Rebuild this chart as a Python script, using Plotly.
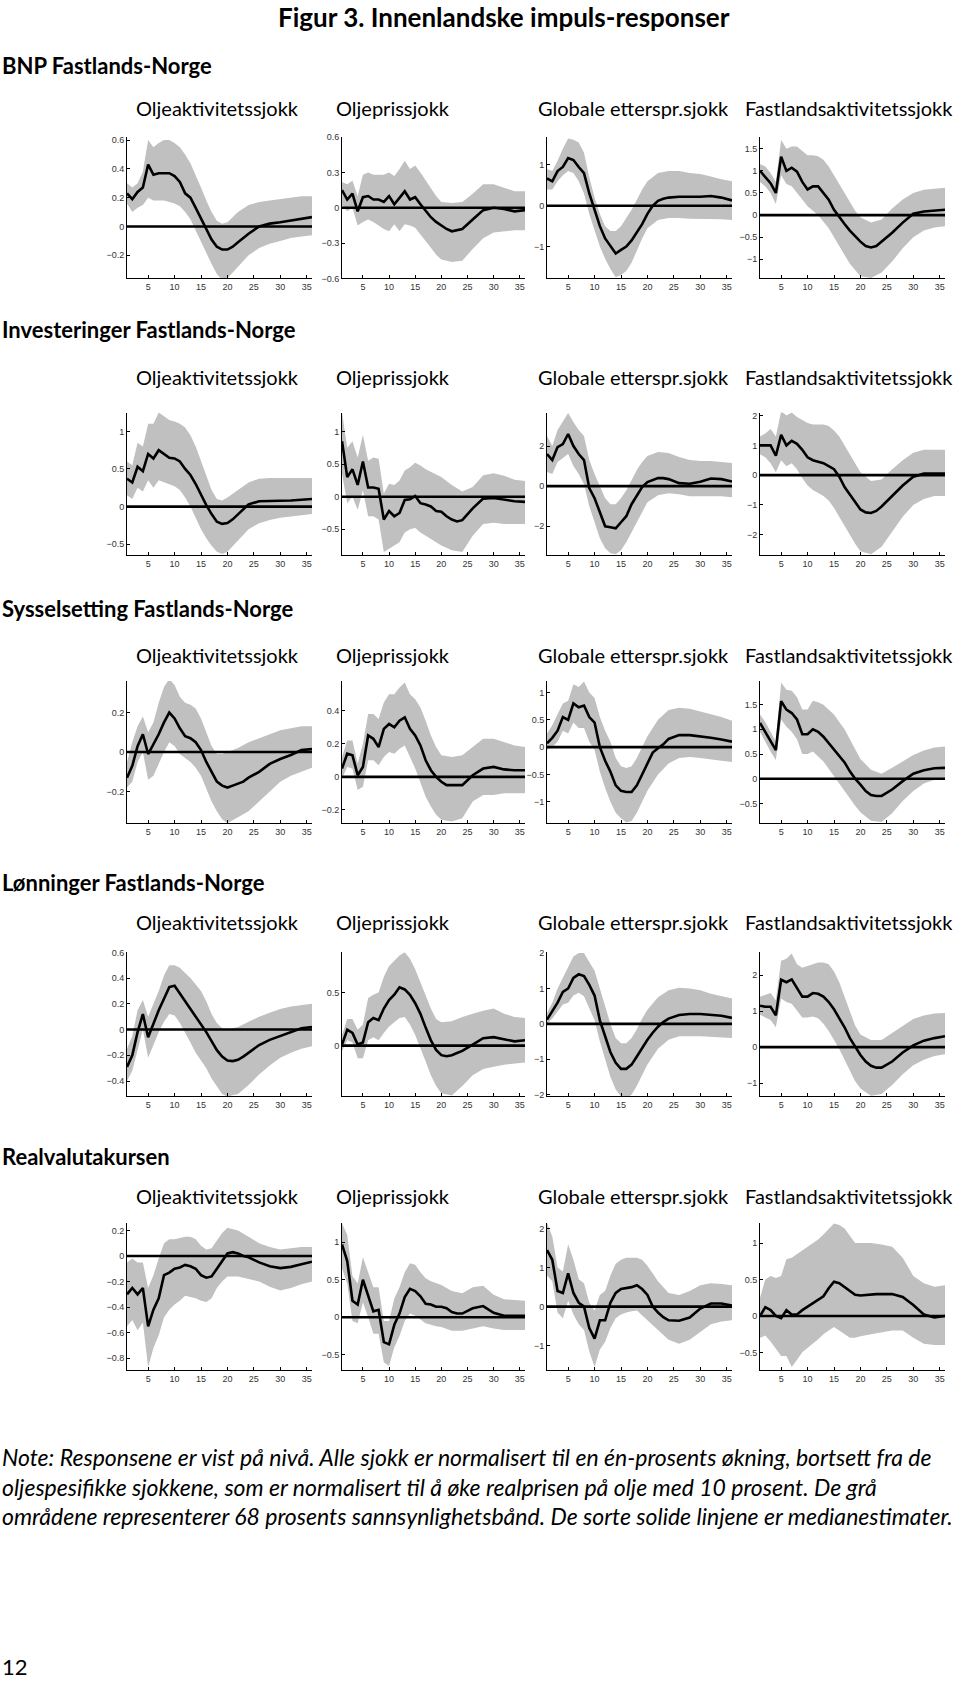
import plotly.graph_objects as go

# ---------------- data ----------------
TITLE = "Figur 3. Innenlandske impuls-responser"
VARIABLES = ["BNP Fastlands-Norge", "Investeringer Fastlands-Norge",
             "Sysselsetting Fastlands-Norge", "Lønninger Fastlands-Norge",
             "Realvalutakursen"]
SHOCKS = ["Oljeaktivitetssjokk", "Oljeprissjokk", "Globale etterspr.sjokk",
          "Fastlandsaktivitetssjokk"]
NOTE_LINES = [
    "Note: Responsene er vist på nivå. Alle sjokk er normalisert til en én-prosents økning, bortsett fra de",
    "oljespesifikke sjokkene, som er normalisert til å øke realprisen på olje med 10 prosent. De grå",
    "områdene representerer 68 prosents sannsynlighetsbånd. De sorte solide linjene er medianestimater.",
]
PAGE_NO = "12"

MED_H = list(range(1, 25)) + [26, 28, 30, 32, 34, 36]
BAND_H = list(range(1, 21)) + [22, 24, 26, 28, 30, 32, 34, 36]
X_TICKS = [5, 10, 15, 20, 25, 30, 35]

# BNP Fastlands-Norge
BNP_OLJEAKT_MED = [0.23,0.19,0.24,0.27,0.43,0.36,0.37,0.37,0.37,0.35,0.31,0.23,0.2,0.13,0.06,-0.01,-0.09,-0.14,-0.16,-0.16,-0.14,-0.11,-0.08,-0.05,0.0,0.02,0.03,0.04,0.055,0.065]
BNP_OLJEAKT_HI = [0.3,0.27,0.3,0.38,0.6,0.55,0.58,0.6,0.6,0.58,0.55,0.5,0.44,0.36,0.27,0.18,0.1,0.04,0.02,0.03,0.1,0.15,0.17,0.18,0.19,0.2,0.21,0.21]
BNP_OLJEAKT_LO = [0.16,0.1,0.13,0.15,0.2,0.18,0.18,0.18,0.17,0.16,0.14,0.1,0.05,-0.02,-0.1,-0.18,-0.26,-0.33,-0.37,-0.36,-0.28,-0.2,-0.15,-0.12,-0.1,-0.08,-0.07,-0.06]

BNP_OLJEPRIS_MED = [0.15,0.07,0.12,-0.03,0.09,0.1,0.07,0.07,0.05,0.1,0.03,0.09,0.14,0.07,0.09,0.03,-0.03,-0.08,-0.12,-0.15,-0.18,-0.2,-0.19,-0.18,-0.1,-0.02,0.0,-0.01,-0.03,-0.02]
BNP_OLJEPRIS_HI = [0.22,0.2,0.23,0.1,0.28,0.3,0.28,0.28,0.28,0.3,0.27,0.33,0.4,0.33,0.36,0.3,0.23,0.16,0.1,0.05,0.04,0.05,0.12,0.2,0.2,0.17,0.14,0.14]
BNP_OLJEPRIS_LO = [0.02,-0.03,0.0,-0.15,-0.12,-0.1,-0.12,-0.15,-0.18,-0.2,-0.14,-0.2,-0.14,-0.15,-0.17,-0.22,-0.28,-0.34,-0.4,-0.44,-0.46,-0.45,-0.35,-0.26,-0.21,-0.2,-0.19,-0.19]

BNP_GLOBAL_MED = [0.67,0.6,0.85,0.95,1.17,1.12,0.95,0.8,0.3,-0.1,-0.5,-0.8,-1.0,-1.17,-1.08,-1.0,-0.85,-0.65,-0.45,-0.2,0.0,0.12,0.17,0.2,0.22,0.22,0.22,0.24,0.2,0.13]
BNP_GLOBAL_HI = [0.9,0.85,1.1,1.4,1.65,1.62,1.55,1.3,0.7,0.2,-0.2,-0.5,-0.62,-0.62,-0.5,-0.3,-0.1,0.15,0.4,0.6,0.8,0.85,0.85,0.8,0.78,0.72,0.65,0.6]
BNP_GLOBAL_LO = [0.4,0.4,0.6,0.75,0.85,0.8,0.6,0.3,-0.2,-0.6,-1.0,-1.3,-1.55,-1.75,-1.7,-1.6,-1.4,-1.1,-0.8,-0.55,-0.35,-0.3,-0.3,-0.32,-0.33,-0.33,-0.33,-0.35]

BNP_FASTLAND_MED = [1.0,0.85,0.72,0.5,1.32,1.0,1.07,0.98,0.75,0.58,0.65,0.65,0.5,0.35,0.12,-0.05,-0.2,-0.35,-0.48,-0.6,-0.7,-0.73,-0.7,-0.6,-0.4,-0.17,0.03,0.08,0.1,0.12]
BNP_FASTLAND_HI = [1.15,1.1,0.95,0.75,1.7,1.5,1.55,1.55,1.45,1.35,1.35,1.33,1.25,1.1,0.9,0.7,0.5,0.3,0.1,-0.05,-0.17,-0.1,0.15,0.35,0.5,0.57,0.6,0.62]
BNP_FASTLAND_LO = [0.75,0.65,0.5,0.25,0.9,0.7,0.65,0.5,0.35,0.2,0.1,0.0,-0.15,-0.3,-0.5,-0.7,-0.9,-1.1,-1.25,-1.38,-1.42,-1.3,-1.05,-0.75,-0.5,-0.35,-0.28,-0.25]

# Investeringer Fastlands-Norge
INV_OLJEAKT_MED = [0.37,0.32,0.53,0.47,0.7,0.64,0.75,0.7,0.65,0.64,0.6,0.5,0.42,0.3,0.15,0.02,-0.1,-0.2,-0.23,-0.22,-0.17,-0.1,-0.04,0.03,0.07,0.07,0.07,0.08,0.09,0.1]
INV_OLJEAKT_HI = [0.6,0.55,0.85,0.8,1.1,1.1,1.25,1.2,1.15,1.13,1.1,1.05,0.95,0.8,0.6,0.4,0.22,0.1,0.08,0.12,0.22,0.32,0.37,0.38,0.38,0.38,0.38,0.38]
INV_OLJEAKT_LO = [0.15,0.1,0.25,0.2,0.35,0.25,0.35,0.32,0.3,0.27,0.22,0.12,0.0,-0.15,-0.3,-0.42,-0.52,-0.6,-0.63,-0.6,-0.45,-0.3,-0.22,-0.18,-0.15,-0.13,-0.12,-0.1]

INV_OLJEPRIS_MED = [0.85,0.3,0.42,0.18,0.54,0.14,0.14,0.12,-0.35,-0.22,-0.3,-0.25,-0.05,-0.04,0.01,-0.1,-0.12,-0.15,-0.22,-0.23,-0.3,-0.35,-0.38,-0.36,-0.18,-0.03,-0.02,-0.05,-0.07,-0.08]
INV_OLJEPRIS_HI = [1.3,0.75,0.85,0.6,0.95,0.55,0.6,0.58,0.05,0.2,0.18,0.25,0.4,0.45,0.52,0.48,0.42,0.38,0.35,0.3,0.18,0.08,0.15,0.33,0.36,0.32,0.26,0.24]
INV_OLJEPRIS_LO = [0.35,-0.1,0.0,-0.2,0.1,-0.3,-0.3,-0.35,-0.85,-0.8,-0.75,-0.7,-0.55,-0.5,-0.48,-0.55,-0.6,-0.65,-0.7,-0.75,-0.82,-0.85,-0.6,-0.42,-0.4,-0.42,-0.42,-0.42]

INV_GLOBAL_MED = [1.6,1.3,1.95,2.1,2.6,2.0,1.6,1.3,-0.1,-0.6,-1.3,-2.0,-2.05,-2.1,-1.8,-1.5,-0.9,-0.5,-0.05,0.2,0.3,0.4,0.4,0.35,0.15,0.12,0.22,0.38,0.35,0.23]
INV_GLOBAL_HI = [2.5,2.0,2.8,3.2,3.65,3.2,2.8,2.5,1.3,0.6,0.0,-0.6,-0.9,-0.9,-0.6,-0.2,0.3,0.8,1.2,1.5,1.7,1.65,1.45,1.3,1.25,1.25,1.2,1.15]
INV_GLOBAL_LO = [0.7,0.6,1.2,1.4,1.6,1.0,0.6,0.1,-1.0,-1.8,-2.6,-3.1,-3.35,-3.4,-3.2,-2.8,-2.3,-1.8,-1.3,-0.8,-0.45,-0.35,-0.4,-0.5,-0.5,-0.5,-0.5,-0.55]

INV_FASTLAND_MED = [1.0,1.0,1.0,0.65,1.35,1.0,1.15,1.05,0.85,0.6,0.5,0.45,0.4,0.3,0.2,-0.05,-0.4,-0.65,-0.9,-1.15,-1.25,-1.27,-1.2,-1.05,-0.7,-0.35,-0.05,0.05,0.05,0.05]
INV_FASTLAND_HI = [1.3,1.4,1.55,1.3,2.15,2.0,2.1,1.95,1.85,1.75,1.7,1.7,1.7,1.65,1.5,1.3,1.0,0.7,0.4,0.1,-0.2,-0.15,0.2,0.5,0.75,0.85,0.85,0.85]
INV_FASTLAND_LO = [0.7,0.6,0.4,0.1,0.5,0.3,0.4,0.2,-0.1,-0.35,-0.5,-0.6,-0.7,-0.85,-1.1,-1.4,-1.7,-2.0,-2.3,-2.55,-2.65,-2.4,-1.9,-1.4,-1.0,-0.8,-0.7,-0.7]

# Sysselsetting Fastlands-Norge
SYS_OLJEAKT_MED = [-0.13,-0.07,0.03,0.09,-0.01,0.04,0.09,0.15,0.2,0.17,0.12,0.08,0.07,0.05,0.01,-0.05,-0.1,-0.15,-0.17,-0.18,-0.17,-0.16,-0.15,-0.13,-0.1,-0.06,-0.035,-0.015,0.01,0.015]
SYS_OLJEAKT_HI = [-0.05,0.05,0.13,0.18,0.1,0.15,0.25,0.33,0.37,0.34,0.28,0.25,0.24,0.22,0.17,0.1,0.03,-0.01,-0.01,0.0,0.02,0.05,0.07,0.09,0.11,0.12,0.13,0.13]
SYS_OLJEAKT_LO = [-0.18,-0.15,-0.05,0.0,-0.14,-0.12,-0.06,0.0,0.05,0.03,-0.01,-0.03,-0.05,-0.08,-0.12,-0.18,-0.25,-0.3,-0.34,-0.36,-0.33,-0.3,-0.25,-0.2,-0.15,-0.12,-0.1,-0.08]

SYS_OLJEPRIS_MED = [0.05,0.14,0.13,0.01,0.06,0.25,0.23,0.18,0.29,0.32,0.3,0.34,0.36,0.29,0.25,0.19,0.1,0.04,0.0,-0.03,-0.05,-0.05,-0.05,-0.05,0.01,0.05,0.06,0.045,0.04,0.04]
SYS_OLJEPRIS_HI = [0.12,0.22,0.22,0.08,0.2,0.38,0.38,0.35,0.45,0.5,0.5,0.54,0.57,0.5,0.47,0.42,0.34,0.25,0.18,0.13,0.12,0.13,0.18,0.23,0.23,0.21,0.19,0.18]
SYS_OLJEPRIS_LO = [-0.01,0.06,0.05,-0.08,-0.06,0.1,0.1,0.07,0.12,0.15,0.14,0.17,0.19,0.12,0.05,-0.03,-0.12,-0.18,-0.23,-0.26,-0.27,-0.25,-0.15,-0.11,-0.11,-0.1,-0.1,-0.1]

SYS_GLOBAL_MED = [0.07,0.17,0.3,0.55,0.5,0.8,0.73,0.76,0.55,0.45,0.0,-0.25,-0.45,-0.7,-0.8,-0.82,-0.82,-0.7,-0.5,-0.3,-0.1,-0.02,0.05,0.15,0.22,0.22,0.2,0.17,0.14,0.1]
SYS_GLOBAL_HI = [0.25,0.4,0.6,0.8,0.85,1.15,1.1,1.2,1.0,0.9,0.55,0.3,0.1,-0.2,-0.35,-0.38,-0.35,-0.2,0.0,0.2,0.5,0.68,0.72,0.7,0.65,0.6,0.55,0.48]
SYS_GLOBAL_LO = [-0.05,0.0,0.1,0.3,0.25,0.45,0.35,0.35,0.1,-0.05,-0.45,-0.75,-1.0,-1.2,-1.3,-1.38,-1.35,-1.2,-1.0,-0.8,-0.5,-0.3,-0.2,-0.18,-0.2,-0.22,-0.25,-0.27]

SYS_FASTLAND_MED = [1.13,0.95,0.77,0.58,1.57,1.4,1.33,1.2,0.9,0.9,1.0,0.95,0.85,0.72,0.6,0.45,0.33,0.15,0.0,-0.12,-0.25,-0.33,-0.35,-0.35,-0.22,-0.05,0.1,0.17,0.21,0.22]
SYS_FASTLAND_HI = [1.3,1.15,0.95,0.75,1.95,1.8,1.78,1.65,1.4,1.4,1.58,1.55,1.5,1.4,1.3,1.15,1.0,0.8,0.6,0.4,0.18,0.1,0.22,0.35,0.48,0.57,0.63,0.65]
SYS_FASTLAND_LO = [0.95,0.75,0.55,0.38,1.2,1.05,0.95,0.8,0.5,0.5,0.55,0.45,0.35,0.2,0.05,-0.1,-0.25,-0.4,-0.55,-0.68,-0.85,-0.88,-0.7,-0.45,-0.25,-0.1,-0.02,0.0]

# Lønninger Fastlands-Norge
LON_OLJEAKT_MED = [-0.29,-0.2,-0.02,0.12,-0.06,0.05,0.15,0.24,0.33,0.34,0.28,0.22,0.16,0.1,0.05,-0.02,-0.09,-0.16,-0.21,-0.24,-0.245,-0.235,-0.21,-0.18,-0.12,-0.08,-0.05,-0.02,0.01,0.02]
LON_OLJEAKT_HI = [-0.15,-0.05,0.15,0.23,0.1,0.2,0.3,0.42,0.5,0.5,0.48,0.44,0.4,0.35,0.3,0.22,0.12,0.05,0.01,0.0,0.02,0.06,0.1,0.13,0.16,0.18,0.19,0.2]
LON_OLJEAKT_LO = [-0.4,-0.32,-0.15,0.0,-0.22,-0.12,-0.02,0.06,0.12,0.11,0.05,-0.02,-0.1,-0.18,-0.24,-0.3,-0.38,-0.44,-0.5,-0.52,-0.5,-0.43,-0.35,-0.28,-0.22,-0.18,-0.15,-0.13]

LON_OLJEPRIS_MED = [0.01,0.15,0.12,0.01,0.03,0.22,0.26,0.24,0.35,0.43,0.48,0.55,0.53,0.48,0.4,0.3,0.17,0.05,-0.04,-0.09,-0.1,-0.09,-0.07,-0.05,0.01,0.07,0.08,0.06,0.04,0.05]
LON_OLJEPRIS_HI = [0.1,0.25,0.25,0.15,0.2,0.45,0.48,0.5,0.65,0.75,0.8,0.85,0.88,0.82,0.72,0.6,0.48,0.35,0.25,0.22,0.23,0.27,0.3,0.33,0.35,0.3,0.27,0.26]
LON_OLJEPRIS_LO = [-0.05,0.05,0.03,-0.12,-0.12,0.05,0.08,0.05,0.12,0.18,0.22,0.26,0.27,0.2,0.1,-0.02,-0.15,-0.28,-0.38,-0.45,-0.47,-0.38,-0.28,-0.22,-0.2,-0.18,-0.17,-0.16]

LON_GLOBAL_MED = [0.12,0.35,0.6,0.9,1.0,1.3,1.4,1.35,1.1,0.8,0.1,-0.35,-0.8,-1.1,-1.27,-1.27,-1.15,-0.92,-0.68,-0.45,-0.25,-0.08,0.05,0.15,0.25,0.28,0.28,0.26,0.23,0.17]
LON_GLOBAL_HI = [0.3,0.6,1.0,1.3,1.6,1.9,2.0,2.0,1.75,1.5,1.0,0.5,0.0,-0.4,-0.55,-0.55,-0.4,-0.15,0.15,0.4,0.75,0.95,1.02,1.0,0.95,0.85,0.78,0.72]
LON_GLOBAL_LO = [0.0,0.15,0.35,0.55,0.6,0.8,0.88,0.78,0.45,0.1,-0.5,-1.0,-1.5,-1.85,-2.05,-2.1,-2.0,-1.75,-1.45,-1.15,-0.7,-0.45,-0.35,-0.35,-0.35,-0.37,-0.38,-0.4]

LON_FASTLAND_MED = [1.15,1.12,1.12,0.88,1.87,1.8,1.88,1.65,1.4,1.4,1.5,1.48,1.4,1.25,1.05,0.8,0.55,0.25,0.0,-0.22,-0.4,-0.52,-0.57,-0.57,-0.4,-0.15,0.05,0.18,0.25,0.3]
LON_FASTLAND_HI = [1.4,1.45,1.5,1.3,2.4,2.45,2.6,2.3,2.2,2.25,2.3,2.35,2.35,2.3,2.1,1.8,1.4,1.0,0.6,0.35,0.2,0.2,0.4,0.6,0.78,0.88,0.93,0.95]
LON_FASTLAND_LO = [0.9,0.82,0.75,0.55,1.35,1.25,1.2,1.0,0.82,0.82,0.85,0.8,0.65,0.45,0.2,-0.05,-0.35,-0.65,-0.95,-1.15,-1.35,-1.3,-1.05,-0.75,-0.5,-0.35,-0.25,-0.2]

# Realvalutakursen
RVK_OLJEAKT_MED = [-0.3,-0.25,-0.3,-0.25,-0.55,-0.42,-0.33,-0.15,-0.13,-0.1,-0.09,-0.07,-0.08,-0.1,-0.15,-0.17,-0.16,-0.1,-0.05,0.02,0.03,0.02,0.0,-0.01,-0.05,-0.08,-0.095,-0.085,-0.065,-0.045]
RVK_OLJEAKT_HI = [-0.05,-0.02,-0.05,-0.05,-0.25,-0.15,-0.02,0.1,0.13,0.13,0.14,0.15,0.15,0.13,0.08,0.05,0.06,0.12,0.18,0.22,0.2,0.15,0.1,0.07,0.05,0.06,0.07,0.07]
RVK_OLJEAKT_LO = [-0.55,-0.5,-0.58,-0.52,-0.87,-0.72,-0.62,-0.48,-0.42,-0.38,-0.35,-0.31,-0.32,-0.33,-0.35,-0.36,-0.33,-0.25,-0.2,-0.16,-0.16,-0.18,-0.2,-0.24,-0.27,-0.25,-0.22,-0.2]

RVK_OLJEPRIS_MED = [0.97,0.75,0.22,0.17,0.5,0.3,0.08,0.1,-0.33,-0.36,-0.1,0.05,0.27,0.38,0.35,0.28,0.18,0.17,0.14,0.14,0.12,0.07,0.05,0.05,0.12,0.15,0.06,0.02,0.02,0.02]
RVK_OLJEPRIS_HI = [1.25,1.1,0.55,0.45,0.8,0.6,0.4,0.4,-0.05,-0.05,0.25,0.4,0.6,0.72,0.7,0.6,0.52,0.48,0.45,0.43,0.35,0.32,0.4,0.42,0.3,0.24,0.23,0.22]
RVK_OLJEPRIS_LO = [0.65,0.45,-0.05,-0.08,0.2,0.0,-0.22,-0.22,-0.6,-0.65,-0.4,-0.25,-0.05,0.05,0.02,-0.03,-0.08,-0.1,-0.12,-0.13,-0.18,-0.18,-0.15,-0.12,-0.15,-0.17,-0.17,-0.17]

RVK_GLOBAL_MED = [1.45,1.2,0.4,0.35,0.85,0.35,0.1,0.0,-0.55,-0.82,-0.35,-0.35,0.1,0.35,0.45,0.48,0.5,0.55,0.45,0.3,0.0,-0.15,-0.27,-0.35,-0.36,-0.28,-0.05,0.08,0.08,0.03]
RVK_GLOBAL_HI = [2.15,1.8,1.0,0.9,1.6,1.2,0.7,0.6,0.1,-0.1,0.3,0.4,0.8,1.1,1.2,1.25,1.25,1.25,1.2,1.05,0.65,0.35,0.3,0.4,0.55,0.6,0.58,0.55]
RVK_GLOBAL_LO = [0.8,0.65,-0.15,-0.3,0.15,-0.2,-0.45,-0.6,-1.15,-1.55,-1.1,-0.9,-0.55,-0.3,-0.2,-0.15,-0.12,-0.1,-0.2,-0.35,-0.6,-0.85,-0.95,-0.85,-0.65,-0.45,-0.38,-0.35]

RVK_FASTLAND_MED = [0.0,0.12,0.08,0.0,-0.03,0.08,0.02,0.02,0.08,0.13,0.17,0.22,0.27,0.38,0.47,0.45,0.4,0.35,0.29,0.28,0.29,0.3,0.3,0.3,0.3,0.26,0.15,0.02,-0.02,0.0]
RVK_FASTLAND_HI = [0.25,0.5,0.55,0.52,0.55,0.78,0.8,0.85,0.9,0.95,1.0,1.05,1.12,1.2,1.27,1.25,1.2,1.1,1.0,1.0,1.0,0.98,0.95,0.8,0.55,0.45,0.4,0.42]
RVK_FASTLAND_LO = [-0.3,-0.27,-0.35,-0.45,-0.55,-0.55,-0.7,-0.6,-0.5,-0.45,-0.38,-0.32,-0.25,-0.2,-0.15,-0.2,-0.25,-0.3,-0.3,-0.28,-0.25,-0.22,-0.2,-0.2,-0.3,-0.38,-0.4,-0.4]

# y-axis ranges and tick values, per row (variable) and column (shock)
Y_RANGES = [
    [[-0.36, 0.62], [-0.6, 0.6], [-1.78, 1.68], [-1.43, 1.76]],
    [[-0.64, 1.25], [-0.89, 1.29], [-3.42, 3.67], [-2.67, 2.1]],
    [[-0.36, 0.36], [-0.28, 0.58], [-1.39, 1.21], [-0.9, 1.98]],
    [[-0.52, 0.6], [-0.48, 0.88], [-2.05, 2.02], [-1.37, 2.63]],
    [[-0.89, 0.26], [-0.7, 1.26], [-1.62, 2.15], [-0.74, 1.28]],
]
Y_TICKS = [
    [[-0.2, 0, 0.2, 0.4, 0.6], [-0.6, -0.3, 0, 0.3, 0.6], [-1, 0, 1], [-1, -0.5, 0, 0.5, 1, 1.5]],
    [[-0.5, 0, 0.5, 1], [-0.5, 0, 0.5, 1], [-2, 0, 2], [-2, -1, 0, 1, 2]],
    [[-0.2, 0, 0.2], [-0.2, 0, 0.2, 0.4], [-1, -0.5, 0, 0.5, 1], [-0.5, 0, 0.5, 1, 1.5]],
    [[-0.4, -0.2, 0, 0.2, 0.4, 0.6], [0, 0.5], [-2, -1, 0, 1, 2], [-1, 0, 1, 2]],
    [[-0.8, -0.6, -0.4, -0.2, 0, 0.2], [-0.5, 0, 0.5, 1], [-1, 0, 1, 2], [-0.5, 0, 0.5, 1]],
]

PANELS = [
    [(BNP_OLJEAKT_MED, BNP_OLJEAKT_LO, BNP_OLJEAKT_HI), (BNP_OLJEPRIS_MED, BNP_OLJEPRIS_LO, BNP_OLJEPRIS_HI),
     (BNP_GLOBAL_MED, BNP_GLOBAL_LO, BNP_GLOBAL_HI), (BNP_FASTLAND_MED, BNP_FASTLAND_LO, BNP_FASTLAND_HI)],
    [(INV_OLJEAKT_MED, INV_OLJEAKT_LO, INV_OLJEAKT_HI), (INV_OLJEPRIS_MED, INV_OLJEPRIS_LO, INV_OLJEPRIS_HI),
     (INV_GLOBAL_MED, INV_GLOBAL_LO, INV_GLOBAL_HI), (INV_FASTLAND_MED, INV_FASTLAND_LO, INV_FASTLAND_HI)],
    [(SYS_OLJEAKT_MED, SYS_OLJEAKT_LO, SYS_OLJEAKT_HI), (SYS_OLJEPRIS_MED, SYS_OLJEPRIS_LO, SYS_OLJEPRIS_HI),
     (SYS_GLOBAL_MED, SYS_GLOBAL_LO, SYS_GLOBAL_HI), (SYS_FASTLAND_MED, SYS_FASTLAND_LO, SYS_FASTLAND_HI)],
    [(LON_OLJEAKT_MED, LON_OLJEAKT_LO, LON_OLJEAKT_HI), (LON_OLJEPRIS_MED, LON_OLJEPRIS_LO, LON_OLJEPRIS_HI),
     (LON_GLOBAL_MED, LON_GLOBAL_LO, LON_GLOBAL_HI), (LON_FASTLAND_MED, LON_FASTLAND_LO, LON_FASTLAND_HI)],
    [(RVK_OLJEAKT_MED, RVK_OLJEAKT_LO, RVK_OLJEAKT_HI), (RVK_OLJEPRIS_MED, RVK_OLJEPRIS_LO, RVK_OLJEPRIS_HI),
     (RVK_GLOBAL_MED, RVK_GLOBAL_LO, RVK_GLOBAL_HI), (RVK_FASTLAND_MED, RVK_FASTLAND_LO, RVK_FASTLAND_HI)],
]

for row in PANELS:
    for med, lo, hi in row:
        assert len(med) == len(MED_H), len(med)
        assert len(lo) == len(BAND_H) and len(hi) == len(BAND_H), (len(lo), len(hi))

# ---------------- layout (pixels) ----------------
W, H = 960, 1685
COL_PX = [(127, 312), (342, 525), (547, 732), (760, 945)]
ROW_PX = [(133, 275), (410, 553), (680, 823), (953, 1098), (1225, 1373)]
TITLE_Y = 12
SECTION_Y = [61, 326, 607, 883, 1158]
HEADER_Y = [104, 374, 654, 922, 1198]
HEADER_X = [217, 393, 633, 849]
NOTE_Y = [1461, 1491, 1520]
PAGE_Y = 1671

BAND_COLOR = "#c0c0c0"
TEXT_FONT = "Lato, 'Open Sans', sans-serif"
TICK_FONT = dict(family="Liberation Sans, Arial, sans-serif", size=9, color="#333333")


def px_x(v):
    return v / W


def px_y(v):
    return 1 - v / H


fig = go.Figure()
layout = dict(width=W, height=H, margin=dict(l=0, r=0, t=0, b=0),
              paper_bgcolor="white", plot_bgcolor="white", showlegend=False)

n = 0
for r in range(5):
    for c in range(4):
        n += 1
        xa = "x" if n == 1 else f"x{n}"
        ya = "y" if n == 1 else f"y{n}"
        med, lo, hi = PANELS[r][c]
        fig.add_trace(go.Scatter(
            x=BAND_H + BAND_H[::-1], y=hi + lo[::-1], fill="toself",
            fillcolor=BAND_COLOR, line=dict(width=0), mode="lines",
            hoverinfo="skip", xaxis=xa, yaxis=ya))
        fig.add_trace(go.Scatter(
            x=[BAND_H[0], BAND_H[-1]], y=[0, 0], mode="lines",
            line=dict(color="black", width=2.6), hoverinfo="skip", xaxis=xa, yaxis=ya))
        fig.add_trace(go.Scatter(
            x=MED_H, y=med, mode="lines",
            line=dict(color="black", width=2.6), xaxis=xa, yaxis=ya))
        x0, x1 = COL_PX[c]
        y0, y1 = ROW_PX[r]
        common = dict(showline=True, linecolor="black", linewidth=1, ticks="inside",
                      ticklen=3, tickcolor="black", showgrid=False, zeroline=False,
                      tickfont=TICK_FONT, fixedrange=True)
        layout["xaxis" if n == 1 else f"xaxis{n}"] = dict(
            domain=[px_x(x0), px_x(x1)], range=[1, 36], tickvals=X_TICKS,
            anchor=ya, **common)
        layout["yaxis" if n == 1 else f"yaxis{n}"] = dict(
            domain=[px_y(y1), px_y(y0)], range=Y_RANGES[r][c], tickvals=Y_TICKS[r][c],
            anchor=xa, **common)

annotations = [dict(text=f"<b>{TITLE}</b>", x=px_x(504), y=px_y(TITLE_Y), xref="paper", yref="paper",
                    xanchor="center", yanchor="middle", showarrow=False,
                    font=dict(family=TEXT_FONT, size=26, color="black"))]
for r, name in enumerate(VARIABLES):
    annotations.append(dict(text=f"<b>{name}</b>", x=0, y=px_y(SECTION_Y[r]), xref="paper", yref="paper",
                            xanchor="left", yanchor="middle", showarrow=False,
                            font=dict(family=TEXT_FONT, size=22, color="black")))
    for c, shock in enumerate(SHOCKS):
        annotations.append(dict(text=shock, x=px_x(HEADER_X[c]), y=px_y(HEADER_Y[r]),
                                xref="paper", yref="paper", xanchor="center", yanchor="middle",
                                showarrow=False, font=dict(family=TEXT_FONT, size=20, color="black")))
for i, line in enumerate(NOTE_LINES):
    annotations.append(dict(text=f"<i>{line}</i>", x=0, y=px_y(NOTE_Y[i]), xref="paper", yref="paper",
                            xanchor="left", yanchor="middle", showarrow=False,
                            font=dict(family=TEXT_FONT, size=23, color="black")))
annotations.append(dict(text=PAGE_NO, x=0, y=px_y(PAGE_Y), xref="paper", yref="paper",
                        xanchor="left", yanchor="middle", showarrow=False,
                        font=dict(family=TEXT_FONT, size=22, color="black")))
layout["annotations"] = annotations

fig.update_layout(**layout)
fig.write_html("out.html", config={"displayModeBar": False},
               post_script="document.body.style.margin='0';")
